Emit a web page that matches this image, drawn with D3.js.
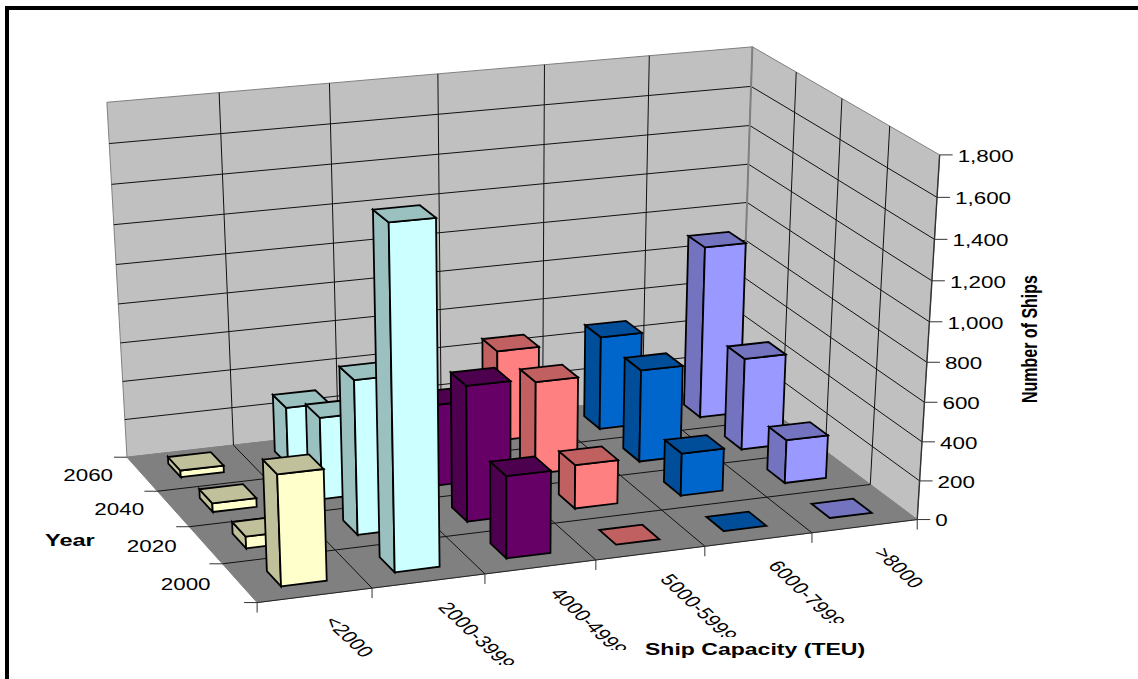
<!DOCTYPE html>
<html><head><meta charset="utf-8">
<script src="https://cdn.jsdelivr.net/npm/d3@7"></script>
<style>html,body{margin:0;padding:0;background:#fff}svg{display:block}text{font-family:"Liberation Sans",Arial,sans-serif;fill:#000}</style>
</head><body><svg id="c" width="1138" height="679"></svg>
<script>
const categories=["<2000","2000-3999","4000-4999","5000-5999","6000-7999",">8000"];
const years=["2000","2020","2040","2060"];
const values2000=[555,1685,415,0,0,0];
const values2020=[60,780,690,225,220,225];
const values2040=[45,420,420,480,480,480];
const values2060=[35,300,300,475,490,905];
const seriesValues=[values2000,values2020,values2040,values2060];
const frontColors=["#ffffcc","#ccffff","#660066","#ff8080","#0066cc","#9999ff"];
const sideColors=["#c0c09a","#9ac0c0","#4d004d","#c06060","#004d99","#7373c0"];
const valueTicks=[0,200,400,600,800,1000,1200,1400,1600,1800];

// camera calibration: unit-cube corner -> picture position
const calib=[[0,0,0,257,602],[1,0,0,917,520],[0,1,0,127,458],[1,1,0,741,387],[0,1,1,107,102],[1,1,1,752,47],[1,0,1,940,155]];
function solveCamera(pts){
  const A=[],b=[];
  pts.forEach(([u,v,w,x,y])=>{
    A.push([u,v,w,1,0,0,0,0,-x*u,-x*v,-x*w]);b.push(x);
    A.push([0,0,0,0,u,v,w,1,-y*u,-y*v,-y*w]);b.push(y);
  });
  const n=11,N=d3.range(n).map(i=>d3.range(n+1).map(j=>j<n?d3.sum(A,r=>r[i]*r[j]):d3.sum(A,(r,k)=>r[i]*b[k])));
  for(let i=0;i<n;i++){
    let p=i;for(let k=i+1;k<n;k++)if(Math.abs(N[k][i])>Math.abs(N[p][i]))p=k;
    [N[i],N[p]]=[N[p],N[i]];
    for(let k=0;k<n;k++)if(k!==i){const f=N[k][i]/N[i][i];for(let j=i;j<=n;j++)N[k][j]-=f*N[i][j];}
  }
  return N.map((r,i)=>r[n]/r[i]);
}
const m=solveCamera(calib);
const proj=(u,v,w)=>{const d=m[8]*u+m[9]*v+m[10]*w+1;return[(m[0]*u+m[1]*v+m[2]*w+m[3])/d,(m[4]*u+m[5]*v+m[6]*w+m[7])/d];};

const x=d3.scaleBand().domain(categories).range([0,1]).paddingInner(.6).paddingOuter(.3);
const y=d3.scaleBand().domain(years).range([0,1]).paddingInner(.6).paddingOuter(.3);
const z=d3.scaleLinear().domain([0,1800]).range([0,1]);
const svg=d3.select("#c");
const line=d3.line();
const poly=p=>line(p.map(q=>proj(...q)))+"Z";

// frame
svg.append("rect").attr("x",5).attr("y",6).attr("width",1133).attr("height",4).attr("fill","#000");
svg.append("rect").attr("x",5).attr("y",6).attr("width",4).attr("height",673).attr("fill","#000");

// walls and floor
const G="#808080";
svg.append("path").attr("d",poly([[0,1,0],[1,1,0],[1,1,1],[0,1,1]])).attr("fill","#c0c0c0").attr("stroke",G).attr("stroke-width",1);
svg.append("path").attr("d",poly([[1,1,0],[1,0,0],[1,0,1],[1,1,1]])).attr("fill","#c0c0c0").attr("stroke",G).attr("stroke-width",1);
svg.append("path").attr("d",poly([[0,0,0],[1,0,0],[1,1,0],[0,1,0]])).attr("fill",G).attr("stroke",G).attr("stroke-width",1);

const ln=(a,b,col="#111",w=1)=>svg.append("path").attr("d",line([proj(...a),proj(...b)])).attr("stroke",col).attr("stroke-width",w).attr("fill","none");
const colEdges=d3.range(categories.length+1).map(i=>i/categories.length);
const rowEdges=d3.range(years.length+1).map(i=>i/years.length);
valueTicks.slice(1,-1).forEach(t=>{ln([0,1,z(t)],[1,1,z(t)]);ln([1,1,z(t)],[1,0,z(t)]);});
colEdges.slice(1,-1).forEach(u=>{ln([u,1,0],[u,1,1]);ln([u,0,0],[u,1,0]);});
rowEdges.slice(1,-1).forEach(v=>{ln([1,v,0],[1,v,1]);ln([0,v,0],[1,v,0]);});
ln([1,1,0],[1,1,1],G,2);
ln([0,0,0],[1,0,0],"#222",1);ln([1,0,0],[1,0,1],"#333",1.4);

// ticks
const tick=(p,dx,dy)=>svg.append("line").attr("x1",p[0]).attr("y1",p[1]).attr("x2",p[0]+dx).attr("y2",p[1]+dy).attr("stroke","#333").attr("stroke-width",1);
colEdges.forEach(u=>tick(proj(u,0,0),0,10));
rowEdges.forEach(v=>tick(proj(0,v,0),-13,0));
valueTicks.forEach(t=>tick(proj(1,0,z(t)),13,0));

// bars, back row first, right column first
const stroke=(s)=>s.attr("stroke","#000").attr("stroke-width",1.8).attr("stroke-linejoin","miter");
[...years.keys()].reverse().forEach(r=>{
  [...categories.keys()].reverse().forEach(c=>{
    const u0=x(categories[c]),u1=u0+x.bandwidth(),v0=y(years[r]),v1=v0+y.bandwidth(),h=z(seriesValues[r][c]);
    const g=svg.append("g");
    if(h>0){
      g.append("path").attr("d",poly([[u0,v0,0],[u0,v1,0],[u0,v1,h],[u0,v0,h]])).attr("fill",sideColors[c]).call(stroke);
      g.append("path").attr("d",poly([[u0,v0,0],[u1,v0,0],[u1,v0,h],[u0,v0,h]])).attr("fill",frontColors[c]).call(stroke);
    }
    g.append("path").attr("d",poly([[u0,v0,h],[u1,v0,h],[u1,v1,h],[u0,v1,h]])).attr("fill",sideColors[c]).call(stroke);
  });
});

// the source picture is stretched horizontally as a whole
const fs=16, sx=1.4;
valueTicks.forEach(t=>{const p=proj(1,0,z(t));
  svg.append("text").text(d3.format(",")(t)).attr("font-size",fs).attr("dominant-baseline","central")
    .attr("transform",`translate(${p[0]+18},${p[1]+1}) scale(${sx},1)`);});
years.forEach((yr,r)=>{const p=proj(0,(r+.5)/years.length,0);
  svg.append("text").text(yr).attr("font-size",fs).attr("text-anchor","end").attr("dominant-baseline","central")
    .attr("transform",`translate(${p[0]-29},${p[1]+.8}) scale(${sx},1)`);});
const clipY=[700,665,650,637,623,700];
const defs=svg.append("defs");
categories.forEach((c,i)=>{const p=proj((i+.5)/categories.length,0,0);
  defs.append("clipPath").attr("id","cl"+i).append("rect").attr("x",0).attr("y",0).attr("width",1138).attr("height",clipY[i]);
  svg.append("g").attr("clip-path",`url(#cl${i})`).append("text").text(c).attr("font-size",fs).attr("letter-spacing",.3).attr("dominant-baseline","central")
    .attr("transform",`translate(${p[0]+15},${p[1]+23}) scale(${sx},1) rotate(52.6)`);});
svg.append("text").text("Year").attr("font-size",fs).attr("font-weight","bold").attr("transform",`translate(45,546) scale(1.47,1)`);
svg.append("text").text("Ship Capacity (TEU)").attr("font-size",fs).attr("font-weight","bold").attr("transform",`translate(645,655) scale(1.44,1)`);
svg.append("text").text("Number of Ships").attr("font-size",fs).attr("font-weight","bold").attr("transform",`translate(1037,403) scale(${sx},1) rotate(-90)`);
</script></body></html>
